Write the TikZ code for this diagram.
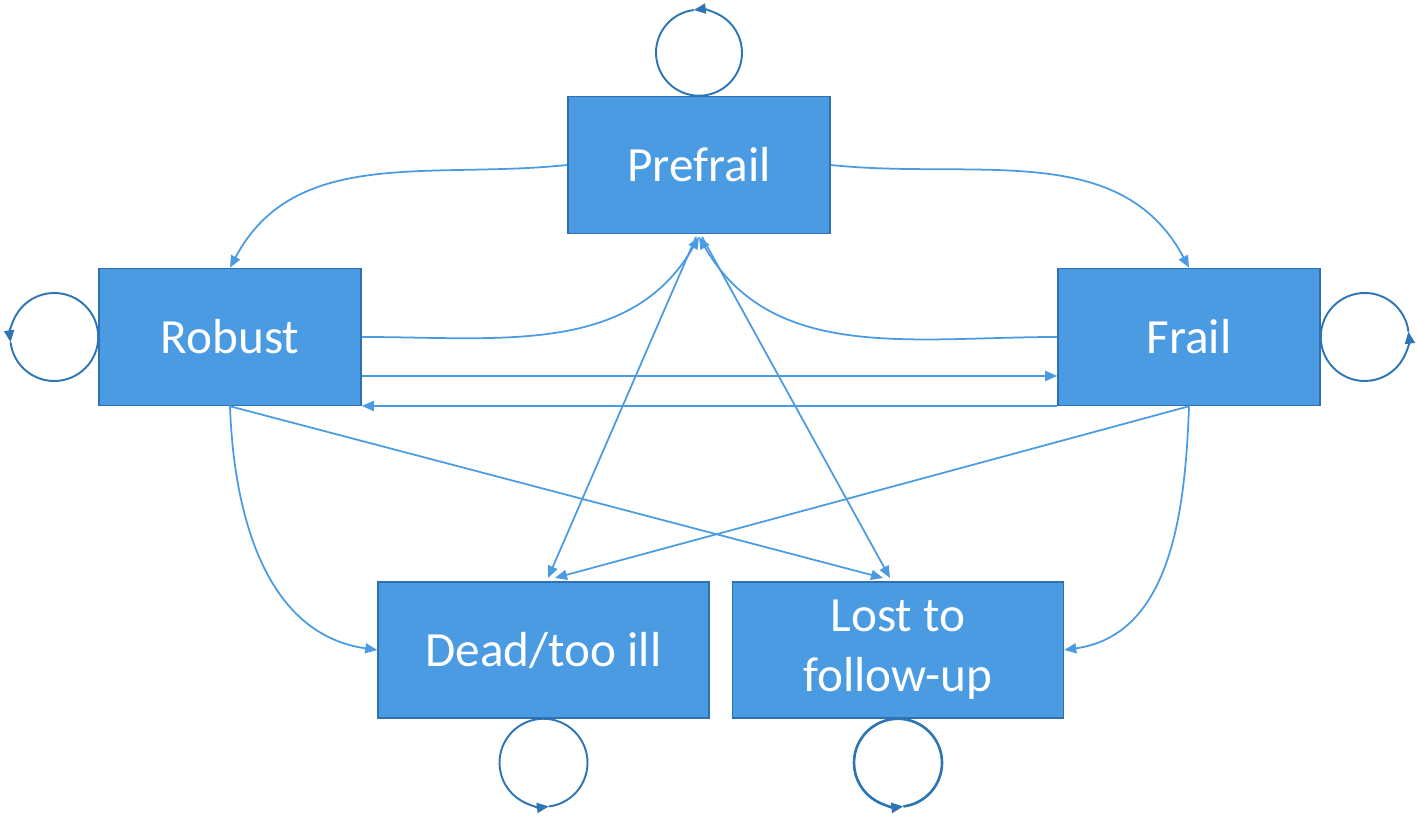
\documentclass[tikz,border=0pt]{standalone}
\usepackage{fontspec}
\setmainfont{Carlito}
\usetikzlibrary{arrows.meta,shapes}
\definecolor{boxfill}{RGB}{74,155,226}
\definecolor{boxedge}{RGB}{46,112,178}
\definecolor{linkblue}{RGB}{74,155,226}
\definecolor{loopblue}{RGB}{46,117,182}

\begin{document}
\begin{tikzpicture}[x=0.02cm,y=0.02cm,>={Triangle[length=2.4mm,width=2mm]}]
            \tikzstyle{state}=[rectangle,draw=boxedge,line width=0.9pt,fill=boxfill,text=white,
                minimum width=5.24cm,minimum height=2.74cm,align=center,
                font=\fontsize{28}{34}\selectfont]
            \tikzstyle{wide}=[minimum width=6.62cm,minimum height=2.72cm]
            \tikzstyle{link}=[draw=linkblue,line width=1pt,->]
            \tikzstyle{selfloop}=[draw=loopblue,line width=1.1pt]
            \useasboundingbox (0,0) rectangle (1418,817);
            % states
            \node[state](prefrail) at (699,652){Prefrail};
            \node[state](robust) at (230,480){Robust};
            \node[state](frail) at (1189,480){Frail};
            \node[state,wide](dead) at (543.5,167){Dead/too ill};
            \node[state,wide](lost) at (898,167){Lost to\\follow-up};
            % anchor points for converging ends
            \coordinate (pbot) at (699,580);
            \coordinate (deadtop) at (548,239);
            \coordinate (losttop) at (890,239);
            % self loops
            \draw[selfloop,->] (prefrail.north) arc[start angle=-90,end angle=97,radius=43];
            \draw[selfloop] (prefrail.north) arc[start angle=-90,end angle=-263,radius=43];
            \draw[selfloop,->] (robust.west) arc[start angle=0,end angle=187,radius=44];
            \draw[selfloop] (robust.west) arc[start angle=0,end angle=-173,radius=44];
            \draw[selfloop,->] (frail.east) arc[start angle=180,end angle=367,radius=44];
            \draw[selfloop] (frail.east) arc[start angle=180,end angle=7,radius=44];
            \draw[selfloop,->] (dead.south) arc[start angle=90,end angle=277,radius=44];
            \draw[selfloop] (dead.south) arc[start angle=90,end angle=-83,radius=44];
            \draw[selfloop,line width=1.5pt,->] (lost.south) arc[start angle=90,end angle=277,radius=44];
            \draw[selfloop,line width=1.5pt] (lost.south) arc[start angle=90,end angle=-83,radius=44];
            % transitions
            \draw[link] (prefrail.west) to[out=186,in=62] (robust.north);
            \draw[link] (prefrail.east) to[out=-6,in=118] (frail.north);
            \draw[link] (robust.east) to[out=0,in=-120] (pbot);
            \draw[link] (frail.west) to[out=180,in=-60] (pbot);
            \draw[link] ([yshift=-0.78cm]robust.east) -- ([yshift=-0.78cm]frail.west);
            \draw[link] ([yshift=-1.38cm]frail.west) -- ([yshift=-1.38cm]robust.east);
            \draw[link] (robust.south) to[out=-88,in=172] (dead.west);
            \draw[link] (frail.south) to[out=-92,in=8] (lost.east);
            \draw[link] (robust.south) -- ([xshift=-0.14cm]losttop);
            \draw[link] (frail.south) -- ([xshift=0.14cm]deadtop);
            \draw[link] ([xshift=-0.06cm]pbot) -- (deadtop);
            \draw[link] ([xshift=0.06cm]pbot) -- (losttop);
\end{tikzpicture}
\end{document}
